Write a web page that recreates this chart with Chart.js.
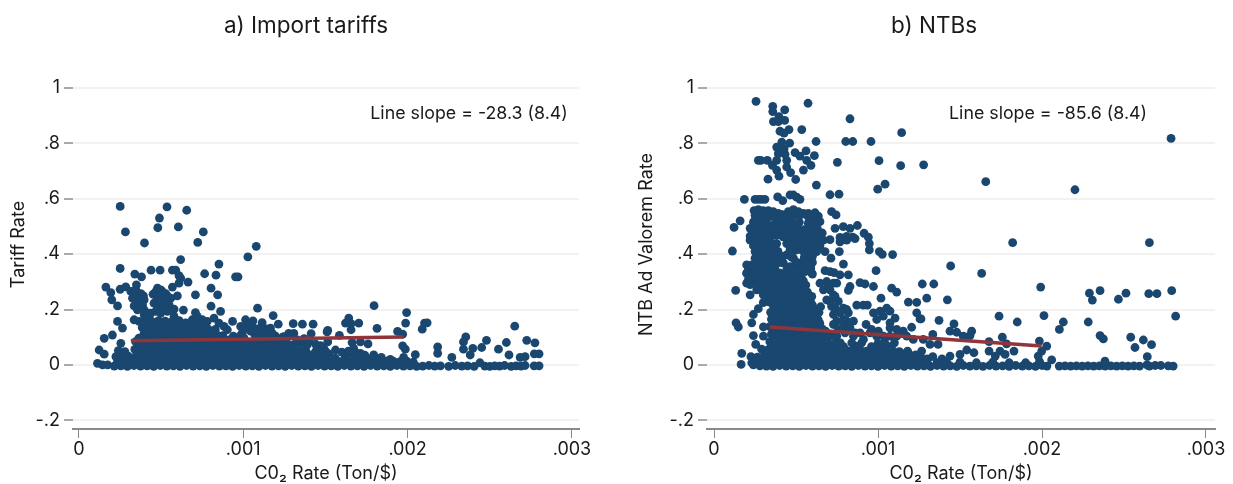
<!DOCTYPE html>
<html>
<head>
<meta charset="utf-8">
<title>CO2 rate scatter</title>
<script src="https://cdn.jsdelivr.net/npm/chart.js@4"></script>
<style>
  html, body { margin: 0; padding: 0; background: #fff; }
  canvas { position: absolute; top: 0; }
  #tariffChart { left: 0; }
  #ntbChart { left: 626px; }
</style>
</head>
<body>
<canvas id="tariffChart" width="616" height="484"></canvas>
<canvas id="ntbChart" width="607" height="484"></canvas>
<script>
// x values are the CO2 rate in millionths (Ton/$ x 1e6)
const xTickValues = [0, 1000, 2000, 3000];
const xTickLabels = ['0', '.001', '.002', '.003'];
const yTickValues = [-0.2, 0, 0.2, 0.4, 0.6, 0.8, 1];
const yTickLabels = ['-.2', '0', '.2', '.4', '.6', '.8', '1'];
const panelTitles = ['a) Import tariffs', 'b) NTBs'];
const yTitles = ['Tariff Rate', 'NTB Ad Valorem Rate'];
const xTitle = 'C0\u2082 Rate (Ton/$)';
const slopeNotes = ['Line slope = -28.3 (8.4)', 'Line slope = -85.6 (8.4)'];

const tariffLine = [[316, 0.087], [1976, 0.101]];
const ntbLine = [[341, 0.137], [1998, 0.068]];

// loose points of panel a
const tariffLoose = [
  [251,.572],[283,.480],[399,.440],[490,.530],[480,.495],[536,.570],[605,.498],[656,.558],[723,.442],[757,.480],
  [619,.380],[852,.364],[1028,.390],[1079,.428],[251,.348],[340,.328],[381,.318],[439,.342],[494,.342],[569,.342],
  [589,.342],[609,.322],[619,.313],[609,.295],[664,.299],[765,.329],[834,.324],[953,.318],[968,.318],[164,.281],
  [194,.261],[200,.235],[235,.213],[251,.273],[285,.282],[350,.289],[326,.265],[346,.253],[366,.241],[393,.249],
  [336,.213],[366,.211],[397,.199],[417,.187],[451,.255],[478,.277],[508,.265],[538,.249],[569,.281],[599,.249],
  [494,.229],[528,.229],[478,.211],[518,.199],[579,.201],[636,.198],[709,.253],[804,.277],[844,.253],[804,.212],
  [862,.193],[709,.189],[1087,.205],[1182,.178],[935,.157],[1014,.163],[1059,.159],[1115,.153],[1213,.147],[1304,.149],
  [1360,.147],[1425,.147],[1510,.119],[1413,.113],[1277,.114],[235,.157],[265,.133],[154,.096],[204,.108],[255,.078],
  [123,.054],[154,.039],[113,.006],[144,.000],[1796,.214],[1994,.189],[1988,.151],[1814,.132],[1939,.121],[1970,.111],
  [2103,.151],[2119,.152],[2089,.129],[1642,.169],[1622,.151],[1656,.149],[1703,.151],[1656,.127],[1514,.125],[1585,.107],
  [1514,.083],[1662,.081],[1713,.083],[1759,.076],[1672,.060],[1713,.042],[1561,.054],[1970,.069],[1986,.057],[2047,.037],
  [2183,.065],[2183,.042],[2354,.101],[2340,.083],[2340,.057],[2397,.060],[2451,.063],[2480,.089],[2601,.081],[2553,.057],
  [2652,.140],[2725,.089],[2775,.080],[2771,.040],[2800,.040],[2617,.036],[2715,.030],[2685,.027],[2269,.027],[2381,.036],
  [1794,.036],[1840,.027],[1895,.020],[1976,.027],
  [316,.265],[346,.271],[377,.257],[397,.235],[356,.229],[326,.241],[387,.217],[356,.199],[397,.181],[427,.169],
  [336,.163],[366,.157],[468,.265],[498,.271],[528,.257],[478,.241],[508,.247],[559,.241],[457,.223],[488,.217],
  [518,.211],[549,.217],[468,.193],[498,.187],[538,.193],[579,.175],[437,.187],[660,.145],[690,.163],[720,.175],
  [751,.163],[781,.157],[822,.169],[852,.151],[883,.139],[903,.127],[984,.139],[994,.114],[1065,.127],[1105,.133],
  [1166,.133],[1176,.114],[1247,.102],[1308,.114],[1358,.078],[1389,.072],[1449,.048],[1510,.042],[1330,.090],[1370,.095],
  [1400,.085],[1440,.075],[1470,.070],[1490,.060],[1480,.045],[1520,.040],[1640,.050],[1680,.045],[1700,.040],[1740,.035]
];

// the solid mass of panel a, row by row
const tariffMass = [
  [175,.000],[215,-.004],[255,-.003],[295,-.005],[335,-.002],[375,-.004],[415,-.003],[455,-.005],[495,-.002],[535,-.004],
  [575,-.003],[615,-.005],[655,-.002],[695,-.004],[735,-.003],[775,-.005],[815,-.002],[855,-.004],[895,-.003],[935,-.005],
  [975,-.002],[1015,-.004],[1055,-.003],[1095,-.005],[1135,-.002],[1175,-.004],[1215,-.003],[1255,-.005],[1295,-.002],[1335,-.004],
  [1375,-.003],[1415,-.005],[1455,-.002],[1495,-.004],[1535,-.003],[1575,-.005],[1615,-.002],[1655,-.004],[1695,-.003],[1735,-.005],
  [1775,-.002],[1815,-.004],[1855,-.003],[1895,-.005],[1935,-.002],[1975,-.004],[2015,-.003],[2055,-.005],[2092,-.004],[2130,-.002],
  [2165,-.004],[2200,-.003],[2250,-.005],[2290,-.002],[2330,-.004],[2365,-.003],[2405,-.005],[2440,.008],[2470,-.004],[2500,-.005],
  [2530,-.003],[2560,-.004],[2590,-.002],[2630,-.005],[2660,-.003],[2690,-.004],[2715,-.002],[2770,-.003],[2800,-.003],
  [235,.013],[275,.012],[315,.014],[355,.013],[395,.012],[435,.014],[475,.013],[515,.012],[555,.014],[595,.013],
  [635,.012],[675,.014],[715,.013],[755,.012],[795,.014],[835,.013],[875,.012],[915,.014],[955,.013],[995,.012],
  [1035,.014],[1075,.013],[1115,.012],[1155,.014],[1195,.013],[1235,.012],[1275,.014],[1315,.013],[1355,.012],[1395,.014],
  [1435,.013],[1475,.012],[1515,.014],[1555,.013],[1595,.012],[1635,.014],[1675,.013],[1715,.012],[1755,.014],[1795,.013],
  [1835,.012],[1875,.014],[1915,.013],[1955,.012],[1995,.014],[2035,.010],
  [225,.03],[262,.028],[300,.032],[345,.03],[385,.027],[425,.031],[465,.029],[505,.03],[545,.028],[585,.032],
  [625,.03],[665,.027],[705,.031],[745,.029],[785,.03],[825,.028],[865,.032],[905,.03],[945,.027],[985,.031],
  [1025,.029],[1065,.03],[1105,.028],[1145,.032],[1185,.03],[1225,.027],[1265,.031],[1305,.029],[1345,.03],[1385,.028],
  [1425,.024],[1465,.03],[1500,.027],[1560,.025],[1620,.026],[1680,.027],[1720,.024],[1760,.022],
  [260,.044],[365,.043],[405,.044],[445,.042],[485,.043],[525,.044],[565,.042],[605,.043],[645,.044],[685,.042],
  [725,.043],[765,.044],[805,.042],[845,.043],[885,.044],[925,.042],[965,.043],[1005,.044],[1045,.042],[1085,.043],
  [1125,.044],[1165,.042],[1205,.043],[1245,.044],[1285,.042],[1325,.038],[1365,.04],[1405,.036],
  [240,.052],[280,.048],[340,.056],[380,.058],[420,.054],[460,.057],[500,.056],[540,.058],[580,.054],[620,.057],
  [660,.056],[700,.058],[740,.054],[780,.057],[820,.056],[860,.058],[900,.054],[940,.057],[980,.056],[1020,.058],
  [1060,.054],[1100,.057],[1140,.056],[1180,.058],[1220,.054],[1260,.057],[1300,.056],[1340,.05],[1380,.052],[1440,.048],
  [1500,.05],[1600,.046],[1640,.04],
  [365,.07],[405,.071],[445,.069],[485,.07],[525,.071],[565,.069],[605,.07],[645,.071],[685,.069],[725,.07],
  [765,.071],[805,.069],[845,.07],[885,.071],[925,.069],[965,.07],[1005,.071],[1045,.069],[1085,.07],[1125,.071],
  [1165,.069],[1205,.07],[1245,.071],[1285,.066],
  [345,.084],[385,.082],[425,.085],[465,.083],[505,.084],[545,.082],[585,.085],[625,.083],[665,.084],[705,.082],
  [745,.085],[785,.083],[825,.084],[865,.082],[905,.085],[945,.083],[985,.084],[1025,.082],[1065,.085],[1105,.083],
  [1145,.084],[1185,.082],[1225,.085],[1265,.08],[1310,.074],[1350,.078],
  [365,.097],[405,.098],[445,.096],[485,.097],[525,.098],[565,.096],[605,.097],[645,.098],[685,.096],[725,.097],
  [765,.098],[805,.096],[845,.097],[885,.094],[925,.093],[965,.095],[1005,.096],[1085,.097],[1125,.098],[1165,.095],[1205,.09],
  [395,.111],[435,.109],[475,.112],[515,.11],[555,.111],[595,.109],[635,.112],[675,.11],[715,.111],[755,.109],
  [795,.112],[835,.11],[875,.106],[940,.104],[985,.108],[1070,.11],[1110,.112],[1150,.108],[1195,.105],[1240,.1],
  [405,.124],[445,.123],[485,.125],[525,.124],[565,.123],[605,.125],[645,.124],[685,.123],[725,.12],[765,.122],[805,.118],
  [1045,.122],[1085,.124],[1125,.12],
  [385,.135],[425,.137],[465,.134],[505,.136],[545,.135],[585,.137],[625,.134],[665,.136],[705,.13],[745,.134],
  [785,.13],[830,.128],[1020,.134],[1060,.136],[1100,.132],[1140,.13],
  [425,.148],[465,.147],[505,.148],[545,.146],[590,.148],[630,.146],[670,.142],
  [400,.158],[445,.156],[485,.16],[525,.158],[565,.156],[610,.16],[650,.152],[690,.15],[730,.155],[770,.15],[1025,.15]
];

// loose points of panel b
const ntbLoose = [
  [256,.951],[358,.933],[358,.914],[431,.920],[573,.944],[829,.888],[396,.896],[362,.878],[392,.878],[431,.882],
  [1144,.838],[535,.849],[457,.849],[402,.843],[427,.836],[622,.806],[803,.806],[846,.806],[957,.806],[413,.804],
  [461,.800],[382,.786],[427,.780],[392,.762],[433,.760],[494,.766],[561,.772],[524,.753],[612,.755],[565,.738],
  [591,.720],[270,.738],[285,.738],[325,.738],[382,.738],[443,.738],[752,.731],[1006,.737],[1138,.719],[1278,.722],
  [356,.720],[382,.703],[443,.714],[467,.694],[545,.703],[396,.681],[329,.670],[498,.669],[624,.649],[1043,.652],
  [998,.634],[707,.614],[762,.616],[185,.597],[250,.597],[270,.597],[290,.597],[310,.597],[388,.606],[463,.613],
  [484,.613],[419,.593],[504,.605],[524,.597],[244,.557],[270,.560],[300,.557],[331,.557],[361,.553],[392,.547],
  [423,.541],[453,.553],[484,.560],[514,.553],[545,.547],[575,.547],[616,.549],[636,.537],[717,.553],[744,.541],
  [159,.520],[122,.496],[220,.493],[250,.523],[291,.523],[250,.499],[301,.499],[342,.535],[382,.523],[362,.505],
  [433,.529],[463,.523],[484,.511],[423,.505],[463,.499],[575,.511],[646,.517],[596,.493],[738,.493],[788,.499],
  [829,.493],[874,.503],[250,.470],[301,.470],[362,.476],[413,.470],[484,.476],[535,.470],[575,.470],[626,.470],
  [660,.476],[768,.460],[809,.464],[846,.461],[915,.475],[941,.461],[112,.411],[132,.269],[134,.152],[148,.137],
  [169,.042],[165,.002],[230,.008],[250,.014],[254,.074],[240,.106],[230,.152],[240,.182],[270,.203],[301,.137],
  [301,.104],[199,.361],[230,.361],[199,.331],[240,.331],[199,.295],[250,.307],[220,.253],[260,.271],[300,.253],
  [250,.409],[291,.397],[250,.385],[321,.415],[362,.403],[392,.397],[291,.367],[341,.385],[311,.361],[382,.367],
  [463,.415],[504,.415],[484,.385],[524,.367],[565,.397],[585,.367],[555,.337],[596,.331],[514,.432],[565,.450],
  [626,.462],[626,.409],[677,.409],[423,.462],[443,.438],[463,.450],[382,.438],[341,.450],[301,.438],[443,.397],
  [423,.367],[463,.355],[443,.343],[789,.364],[988,.340],[1089,.398],[1026,.399],[1008,.409],[947,.415],[947,.438],
  [860,.456],[809,.450],[768,.444],[764,.409],[713,.385],[677,.340],[707,.337],[732,.333],[768,.325],[819,.325],
  [646,.295],[697,.289],[748,.295],[728,.253],[738,.205],[596,.247],[667,.271],[707,.229],[829,.283],[819,.269],
  [890,.297],[921,.292],[972,.283],[1083,.277],[1114,.263],[1270,.292],[1297,.241],[1185,.227],[1236,.226],[1018,.241],
  [789,.205],[819,.188],[870,.216],[910,.216],[935,.216],[748,.158],[809,.158],[850,.158],[789,.140],[829,.134],
  [860,.116],[707,.104],[748,.104],[927,.146],[972,.188],[1012,.194],[1053,.205],[1073,.194],[1032,.176],[992,.164],
  [1104,.169],[1073,.152],[1236,.188],[1256,.166],[1205,.136],[1154,.122],[1114,.128],[1073,.134],[960,.128],[1002,.122],
  [1657,.661],[2201,.632],[1821,.441],[2655,.441],[2787,.817],[1443,.357],[1632,.330],[1340,.292],[1423,.235],[1992,.281],
  [2289,.259],[2307,.234],[2354,.268],[2466,.237],[2512,.259],[2651,.257],[2701,.257],[2791,.268],[2815,.176],[1738,.176],
  [2012,.178],[1849,.155],[1372,.161],[1262,.166],[1463,.148],[1439,.122],[1480,.118],[1571,.122],[1561,.106],[1520,.104],
  [1334,.110],[1366,.074],[2130,.155],[2106,.128],[2282,.155],[2354,.106],[2374,.094],[2541,.100],[2618,.090],[2668,.073],
  [2567,.063],[2642,.030],[1677,.084],[1758,.100],[1784,.076],[1984,.086],[2029,.068],[1998,.050],[1977,.032],[1677,.050],
  [1715,.032],[1744,.050],[1775,.038],[1829,.050],[1541,.054],[1585,.044],[1500,.038],[1439,.032],[1334,.030],[1266,.050],
  [2059,.018],[2384,.014],
  [220,.450],[260,.450],[340,.452],[463,.452],[504,.450],[545,.452],[585,.450],[626,.448],[667,.450],[707,.452],
  [240,.430],[280,.432],[320,.430],[360,.428],[484,.430],[524,.432],[565,.430],[606,.428],[646,.430],
  [270,.410],[310,.412],[350,.408],[390,.410],[480,.410],[540,.412],[580,.410],[600,.392],
  [260,.390],[300,.392],[340,.388],[380,.390],[420,.392],[470,.390],[550,.388],[590,.390],
  [270,.370],[310,.372],[350,.368],[400,.370],[500,.372],[560,.368],[600,.370],
  [210,.350],[250,.352],[290,.348],[330,.350],[370,.352],[470,.350],[510,.348],[550,.352],[590,.350],
  [200,.330],[280,.332],[320,.328],[360,.330],[400,.332],[600,.328],
  [210,.310],[290,.312],[330,.308],[370,.310],[220,.290],[260,.292],[300,.288],[340,.290],[290,.270],[330,.268],
  [310,.250],[340,.252],[300,.225],[330,.228],
  [250,.540],[290,.542],[330,.538],[370,.540],[410,.542],[450,.538],[490,.540],[530,.542],[570,.538],[600,.540],
  [240,.515],[280,.517],[320,.513],[400,.515],[440,.517],[480,.513],[520,.515],[580,.517],[620,.513],
  [230,.490],[270,.492],[310,.488],[350,.490],[390,.492],[430,.488],[470,.490],[510,.492],[550,.488],[600,.490],[630,.492],
  [220,.465],[260,.467],[300,.463],[340,.465],[380,.467],[420,.463],[460,.465],[500,.467],[540,.463],[580,.465],[620,.467],
  [687,.301],[728,.295],[707,.271],[738,.247],[687,.235],[717,.211],[758,.229],[809,.200],[728,.182],[768,.188],
  [789,.164],[728,.146],[758,.128],[799,.116],[850,.104],[890,.116],[911,.092],[951,.116],[992,.104],[1033,.104],
  [1073,.104],[1114,.104],[1175,.104],[1215,.092],[1276,.092],[1317,.074]
];

// the solid mass of panel b, row by row
const ntbMass = [
  [240,.000],[280,-.003],[320,-.004],[360,-.005],[400,-.002],[440,-.004],[480,-.003],[520,-.005],[560,-.002],[600,-.004],
  [640,-.003],[680,-.005],[720,-.002],[760,-.004],[800,-.003],[840,-.005],[880,-.002],[920,-.004],[960,-.003],[1000,-.005],
  [1040,-.002],[1080,-.004],[1120,-.003],[1160,-.005],[1200,-.002],[1240,-.004],[1280,-.003],[1320,-.005],[1360,-.002],[1400,-.004],
  [1440,-.003],[1480,-.005],[1520,-.002],[1560,-.004],[1600,-.003],[1640,-.005],[1680,-.002],[1720,-.004],[1760,-.003],[1800,-.005],
  [1840,-.002],[1880,-.004],[1920,-.003],[1960,-.005],[2000,-.002],[2030,-.004],[2105,-.004],[2140,-.003],[2175,-.004],[2210,-.003],
  [2245,-.004],[2280,-.003],[2315,-.004],[2350,-.003],[2385,-.004],[2420,-.003],[2455,-.004],[2490,-.003],[2525,-.004],[2560,-.003],
  [2595,-.004],[2640,.000],[2655,-.004],[2690,-.002],[2725,-.002],[2770,-.003],[2800,-.004],
  [255,.014],[300,.013],[340,.015],[380,.014],[420,.013],[460,.015],[500,.014],[540,.013],[580,.015],[620,.014],
  [660,.013],[700,.015],[740,.014],[780,.013],[820,.015],[860,.014],[900,.013],[940,.015],[980,.014],[1020,.013],
  [1060,.015],[1100,.014],[1140,.013],[1180,.015],[1220,.014],[1260,.012],[1300,.01],[1360,.008],[1420,.008],[1500,.01],
  [1600,.008],[1700,.01],[1800,.008],[1900,.008],[1985,.012],
  [225,.03],[265,.028],[305,.031],[345,.029],[385,.03],[425,.028],[465,.031],[505,.029],[545,.03],[585,.028],
  [625,.031],[665,.029],[705,.03],[745,.028],[785,.031],[825,.029],[865,.03],[905,.028],[945,.031],[985,.029],
  [1025,.03],[1065,.028],[1105,.031],[1145,.029],[1185,.03],[1225,.028],[1265,.024],[1300,.022],[1390,.022],
  [310,.043],[350,.044],[390,.042],[430,.043],[470,.044],[510,.042],[550,.043],[590,.044],[630,.042],[670,.043],
  [710,.044],[750,.042],[790,.043],[830,.044],[870,.042],[910,.043],[950,.044],[990,.042],[1030,.043],[1070,.044],
  [1110,.042],[1150,.04],[1190,.038],[1230,.036],
  [290,.057],[330,.055],[370,.058],[410,.056],[450,.057],[490,.055],[530,.058],[570,.056],[610,.057],[650,.055],
  [690,.05],[730,.054],[770,.056],[810,.052],[850,.058],[890,.055],[930,.05],[970,.056],[1010,.05],[1050,.056],
  [1090,.052],[1130,.048],[1180,.05],
  [350,.07],[390,.071],[430,.069],[470,.07],[510,.071],[550,.069],[590,.07],[630,.071],[670,.066],[700,.064],
  [790,.066],[870,.068],[960,.066],[1020,.068],[1070,.066],
  [340,.084],[380,.082],[420,.085],[460,.083],[500,.084],[540,.082],[580,.085],[620,.083],[660,.078],[700,.076],
  [740,.08],[770,.08],[840,.08],[900,.08],[1000,.078],[1040,.082],[1100,.08],
  [365,.097],[405,.098],[445,.096],[485,.097],[525,.098],[565,.096],[605,.097],[645,.098],[690,.094],
  [350,.111],[390,.109],[430,.112],[470,.11],[510,.111],[550,.109],[590,.112],[630,.11],[670,.106],[720,.11],
  [365,.124],[405,.125],[445,.123],[485,.124],[525,.125],[565,.123],[605,.124],[645,.125],[680,.122],
  [340,.138],[385,.136],[425,.139],[465,.137],[505,.138],[545,.136],[585,.139],[625,.137],[660,.13],
  [365,.151],[405,.152],[445,.15],[485,.151],[525,.152],[565,.15],[605,.151],[645,.15],
  [350,.165],[390,.163],[430,.166],[470,.164],[510,.165],[550,.163],[590,.166],[635,.164],
  [365,.177],[405,.178],[445,.176],[485,.177],[525,.178],[565,.176],[605,.177],
  [345,.19],[385,.188],[425,.191],[465,.189],[505,.19],[545,.188],[585,.191],[640,.19],
  [380,.202],[420,.203],[460,.201],[500,.202],[540,.203],[580,.201],[615,.2],
  [360,.215],[400,.213],[440,.216],[480,.214],[520,.215],[560,.213],[600,.216],[650,.21],
  [390,.227],[430,.228],[470,.226],[510,.227],[550,.228],[590,.226],
  [372,.24],[412,.238],[452,.241],[492,.239],[532,.24],[572,.238],
  [392,.252],[432,.253],[472,.251],[512,.252],[552,.253],
  [372,.265],[412,.263],[452,.266],[492,.264],[532,.265],[570,.263],
  [392,.277],[432,.278],[472,.276],[512,.277],[550,.278],
  [362,.29],[402,.288],[442,.291],[482,.289],[522,.29],[560,.288],
  [392,.302],[432,.303],[472,.301],[512,.302],[545,.303],
  [372,.315],[412,.313],[452,.316],[492,.314],[532,.315],
  [432,.328],[472,.327],[512,.328]
];

const toPoint = p => ({ x: p[0], y: p[1] });
const NAVY = '#1a476f';
const CRANBERRY = '#90353b';
const LABEL = '#1a1a1a';
const FONT = "Inter, 'Liberation Sans', sans-serif";

// writes the panel title and the "Line slope" note
const panelText = {
  id: 'panelText',
  afterDatasetsDraw(chart, args, opts) {
    const ctx = chart.ctx;
    ctx.save();
    ctx.fillStyle = LABEL;
    ctx.textBaseline = 'middle';
    ctx.textAlign = 'center';
    ctx.font = '22.5px ' + FONT;
    ctx.fillText(opts.title, opts.titleX, 26);
    ctx.textAlign = 'left';
    ctx.font = '17.8px ' + FONT;
    ctx.fillText(opts.note, chart.scales.x.getPixelForValue(opts.noteX), chart.scales.y.getPixelForValue(0.906));
    ctx.restore();
  }
};

function makePanel(id, index, points, line, xMin, xMax, yAxisWidth, rightPad, titleX, noteX, yTitleLeft) {
  return new Chart(document.getElementById(id), {
    type: 'scatter',
    plugins: [panelText],
    data: {
      datasets: [
        {
          type: 'line',
          data: line.map(toPoint),
          borderColor: CRANBERRY,
          borderWidth: 3.5,
          pointRadius: 0,
          order: 0
        },
        {
          data: points.map(toPoint),
          backgroundColor: NAVY,
          borderWidth: 0,
          pointRadius: 4.4,
          order: 1
        }
      ]
    },
    options: {
      responsive: false,
      animation: false,
      layout: { padding: { top: 60, right: rightPad, bottom: 0, left: 0 } },
      plugins: {
        legend: { display: false },
        tooltip: { enabled: false },
        panelText: { title: panelTitles[index], titleX: titleX, note: slopeNotes[index], noteX: noteX }
      },
      scales: {
        x: {
          type: 'linear',
          min: xMin,
          max: xMax,
          afterFit(s) { s.height = 55; },
          afterBuildTicks(s) { s.ticks = xTickValues.map(v => ({ value: v })); },
          border: { color: '#8a8a8a', width: 2 },
          grid: { drawOnChartArea: false, tickColor: '#8a8a8a', tickLength: 9 },
          ticks: {
            autoSkip: false,
            maxRotation: 0,
            padding: 1,
            color: LABEL,
            font: { family: FONT, size: 18 },
            callback: (v, i) => xTickLabels[i]
          },
          title: {
            display: true,
            text: xTitle,
            color: LABEL,
            font: { family: FONT, size: 18 },
            padding: { top: 0, bottom: 0 }
          }
        },
        y: {
          type: 'linear',
          min: -0.231,
          max: 1.1,
          afterFit(s) { s.width = yAxisWidth; },
          afterBuildTicks(s) { s.ticks = yTickValues.map(v => ({ value: v })); },
          border: { display: false },
          grid: { color: '#f2f2f2', lineWidth: 2, tickColor: '#555555', tickWidth: 1, tickLength: 9 },
          ticks: {
            autoSkip: false,
            padding: 4,
            color: LABEL,
            font: { family: FONT, size: 18 },
            callback: (v, i) => yTickLabels[i]
          },
          title: {
            display: true,
            text: yTitles[index],
            color: LABEL,
            font: { family: FONT, size: 18 },
            padding: { top: yTitleLeft, bottom: 0 }
          }
        }
      }
    }
  });
}

makePanel('tariffChart', 0, tariffMass.concat(tariffLoose), tariffLine, -36, 3043, 73, 37, 306, 1773, 8);
makePanel('ntbChart', 1, ntbMass.concat(ntbLoose), ntbLine, -43, 3055, 81, 18, 308, 1433, 10);
</script>
</body>
</html>
